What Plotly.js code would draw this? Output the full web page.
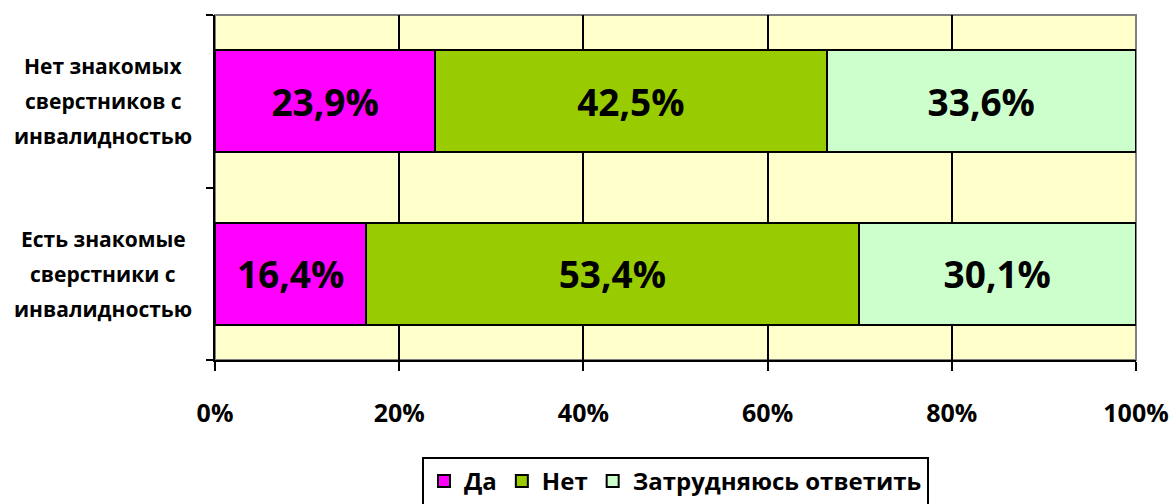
<!DOCTYPE html>
<html>
<head>
<meta charset="utf-8">
<script src="https://cdn.plot.ly/plotly-3.0.1.min.js"></script>
<style>
  html, body { margin: 0; padding: 0; background: #ffffff; }
  #chart { width: 1173px; height: 504px; }
</style>
</head>
<body>
<div id="chart"></div>
<script>
// ---- data ----
const categories = [
  "Есть знакомые сверстники с инвалидностью",
  "Нет знакомых сверстников с инвалидностью"
];
const categoryLines = [
  ["Есть знакомые", "сверстники с", "инвалидностью"],
  ["Нет знакомых", "сверстников с", "инвалидностью"]
];
const seriesNames = ["Да", "Нет", "Затрудняюсь ответить"];
const valuesDa = [16.4, 23.9];
const valuesNet = [53.4, 42.5];
const valuesHard = [30.1, 33.6];
const seriesColors = ["#FF00FF", "#99CC00", "#CCFFCC"];
const xTickVals = [0, 20, 40, 60, 80, 100];
const xTickText = ["0%", "20%", "40%", "60%", "80%", "100%"];

// ---- build ----
const FONT = "Open Sans, Noto Sans, DejaVu Sans, sans-serif";
const fmt = v => v.toFixed(1).replace(".", ",") + "%";
const seriesValues = [valuesDa, valuesNet, valuesHard];

const traces = seriesNames.map((name, i) => ({
  type: "bar",
  orientation: "h",
  name: name,
  y: categories,
  x: seriesValues[i],
  text: seriesValues[i].map(fmt),
  textposition: "inside",
  insidetextanchor: "middle",
  textangle: 0,
  constraintext: "none",
  textfont: { family: FONT, size: 37, color: "#000000", weight: 700 },
  marker: { color: seriesColors[i], line: { color: "#000000", width: 2 } },
  hoverinfo: "none"
}));

const annotations = [];
categories.forEach((cat, ci) => {
  categoryLines[ci].forEach((line, li) => {
    annotations.push({
      xref: "paper", yref: "y",
      x: -0.1216, y: cat,
      xanchor: "center", yanchor: "middle",
      yshift: (1 - li) * 35,
      text: line,
      showarrow: false,
      font: { family: FONT, size: 21, color: "#000000", weight: 700 }
    });
  });
});

const layout = {
  width: 1173,
  height: 504,
  margin: { l: 215, r: 37, t: 15, b: 144, autoexpand: false },
  paper_bgcolor: "#ffffff",
  plot_bgcolor: "#FFFFCC",
  barmode: "stack",
  barnorm: "percent",
  bargap: 0.41,
  showlegend: true,
  legend: {
    orientation: "h",
    x: 0.5, xanchor: "center",
    y: -0.281, yanchor: "top",
    traceorder: "normal",
    bgcolor: "#ffffff",
    bordercolor: "#000000",
    borderwidth: 2,
    font: { family: FONT, size: 24, color: "#000000", weight: 700 },
    itemwidth: 30
  },
  xaxis: {
    range: [0, 100],
    tickvals: xTickVals,
    ticktext: xTickText,
    ticks: "outside",
    ticklen: 9,
    tickwidth: 2,
    tickcolor: "#000000",
    showline: true,
    linecolor: "#000000",
    linewidth: 2,
    showgrid: true,
    gridcolor: "#000000",
    gridwidth: 2,
    zeroline: false,
    ticklabelstandoff: 21,
    tickfont: { family: FONT, size: 25, color: "#000000", weight: 700 },
    fixedrange: true
  },
  yaxis: {
    type: "category",
    categoryorder: "array",
    categoryarray: categories,
    ticks: "outside",
    tickson: "boundaries",
    ticklen: 7,
    tickwidth: 2,
    tickcolor: "#000000",
    showline: true,
    linecolor: "#000000",
    linewidth: 2,
    showgrid: false,
    zeroline: false,
    showticklabels: false,
    fixedrange: true
  },
  shapes: [{
    type: "rect", xref: "paper", yref: "paper",
    x0: 0, x1: 1, y0: 0, y1: 1,
    line: { color: "#808080", width: 2 },
    fillcolor: "rgba(0,0,0,0)",
    layer: "between"
  }],
  annotations: annotations
};

Plotly.newPlot("chart", traces, layout, { displayModeBar: false, staticPlot: true });
</script>
</body>
</html>
